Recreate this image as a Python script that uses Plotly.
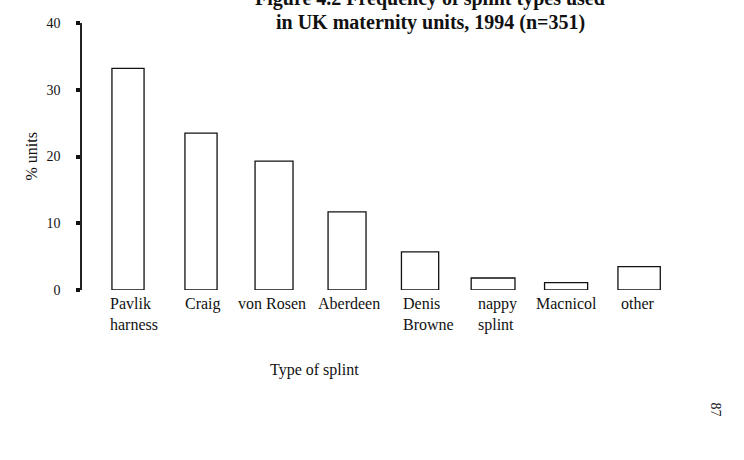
import plotly.graph_objects as go

# ---- data ----
categories = ["Pavlik<br>harness", "Craig", "von Rosen", "Aberdeen",
              "Denis<br>Browne", "nappy<br>splint", "Macnicol", "other"]
percent_units = [33.2, 23.5, 19.3, 11.7, 5.7, 1.8, 1.1, 3.5]
y_ticks = [0, 10, 20, 30, 40]
title_line1 = "Figure 4.2 Frequency of splint types used"
title_line2 = "in UK maternity units, 1994 (n=351)"
y_title = "% units"
x_title = "Type of splint"
page_number = "87"

# ---- style ----
FONT = "Liberation Serif, Times New Roman, serif"
INK = "#111111"
BAR_WIDTHS = [0.44, 0.44, 0.52, 0.52, 0.51, 0.60, 0.59, 0.58]
LABEL_SHIFTS = [6, 2, -2, 2, 8, 4, 0, -1]

xs = list(range(len(categories)))

fig = go.Figure()
fig.add_trace(go.Bar(
    x=xs, y=percent_units, width=BAR_WIDTHS,
    marker=dict(color="white", line=dict(color=INK, width=1.3)),
    hoverinfo="skip",
))

annotations = []
for x, lab, sh in zip(xs, categories, LABEL_SHIFTS):
    annotations.append(dict(
        x=x, xref="x", y=0, yref="paper", yanchor="top", xanchor="center",
        yshift=-3, xshift=sh, text=lab, showarrow=False, align="left",
        font=dict(family=FONT, size=16, color=INK),
    ))

annotations += [
    dict(x=0.582, xref="paper", y=1, yref="paper", yshift=25, yanchor="middle",
         text="<b>" + title_line1 + "</b>", showarrow=False,
         font=dict(family=FONT, size=20, color=INK)),
    dict(x=0.582, xref="paper", y=1, yref="paper", yshift=1, yanchor="middle",
         text="<b>" + title_line2 + "</b>", showarrow=False,
         font=dict(family=FONT, size=20, color=INK)),
    dict(x=0, xref="paper", xshift=-61, y=0.498, yref="paper", textangle=-90,
         text=y_title, showarrow=False,
         font=dict(family=FONT, size=16, color=INK)),
    dict(x=0.388, xref="paper", y=-0.341, yref="paper", text=x_title,
         showarrow=False, font=dict(family=FONT, size=16, color=INK)),
    dict(x=1.0752, xref="paper", y=-0.483, yref="paper", text=page_number,
         textangle=90, showarrow=False,
         font=dict(family=FONT, size=14, color=INK)),
]

fig.update_layout(
    width=744, height=460,
    margin=dict(l=82, r=64, t=23, b=170, pad=0),
    paper_bgcolor="white", plot_bgcolor="white",
    showlegend=False,
    annotations=annotations,
    xaxis=dict(range=[-0.63, 7.56], showgrid=False, zeroline=False,
               showline=False, showticklabels=False, ticks=""),
    yaxis=dict(range=[0, 40], tickvals=y_ticks, showgrid=False, zeroline=False,
               showline=True, linecolor="#222222", linewidth=1.5,
               ticks="outside", ticklen=4, tickwidth=4, tickcolor=INK,
               ticklabelstandoff=13,
               tickfont=dict(family=FONT, size=14, color=INK)),
)

fig.write_html("out.html")
